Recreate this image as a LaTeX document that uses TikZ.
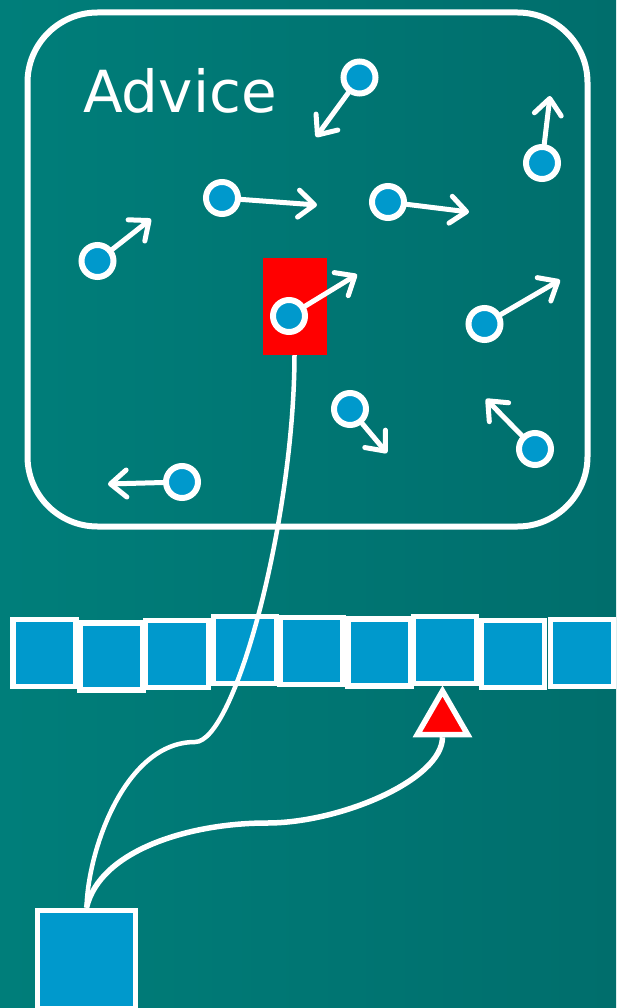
\documentclass[tikz,border=0pt]{standalone}
\usepackage{fontspec}
\setmainfont{DejaVu Sans}
\usetikzlibrary{arrows.meta,shapes.geometric}
\definecolor{bgleft}{RGB}{0,126,122}
\definecolor{bgright}{RGB}{0,110,108}
\definecolor{cellblue}{RGB}{0,153,204}

\begin{document}
\begin{tikzpicture}[x=1pt,y=-1pt,
  dot/.style={circle,draw=white,line width=6pt,fill=cellblue,minimum size=32pt,inner sep=0pt},
  cell/.style={draw=white,line width=5.5pt,fill=cellblue,minimum width=63pt,minimum height=67pt,inner sep=0pt},
  arr/.style={white,line width=5pt,line cap=round,-{Straight Barb[length=16pt,width=27pt,line cap=round,round]}},
  wire/.style={white,line width=4.5pt}]
\fill[left color=bgleft,right color=bgright] (0,0) rectangle (616,1008);
\useasboundingbox (0,0) rectangle (616,1008);
\node[draw=white,line width=6pt,rounded corners=70pt,minimum width=560pt,minimum height=514pt] (advicebox) at (307.5,269.5) {};
\node[anchor=base west,white,font=\fontsize{58}{60}\selectfont,inner sep=0pt] (title) at (83,113) {Advice};
% moving particles
\node[fill=red,minimum width=64pt,minimum height=97pt,inner sep=0pt] (sel) at (294.5,306.5) {};
\node[dot] (p1) at (359.5,77.5) {};  \coordinate (a1) at (316,137);
\node[dot] (p2) at (542,163) {};     \coordinate (a2) at (550,96);
\node[dot] (p3) at (222,198) {};     \coordinate (a3) at (317,205);
\node[dot] (p4) at (388,202) {};     \coordinate (a4) at (469,212);
\node[dot] (p5) at (97.5,261) {};    \coordinate (a5) at (151,219);
\node[dot] (p6) at (289,316) {};     \coordinate (a6) at (357,274.5);
\node[dot] (p7) at (484.5,324) {};   \coordinate (a7) at (560,280);
\node[dot] (p8) at (350,409) {};     \coordinate (a8) at (387,453);
\node[dot] (p9) at (535,449) {};     \coordinate (a9) at (486,399);
\node[dot] (p10) at (182,482) {};    \coordinate (a10) at (108,484);
\foreach \i in {1,...,10} \draw[arr] (p\i) -- (a\i);
% memory row
\node[cell] (s1) at (44.5,653) {};
\node[cell] (s2) at (111.5,656.5) {};
\node[cell] (s3) at (177,654) {};
\node[cell] (s4) at (245,650) {};
\node[cell] (s5) at (311.5,651) {};
\node[cell] (s6) at (379.5,652.5) {};
\node[cell] (s7) at (445,650) {};
\node[cell] (s8) at (513,654) {};
\node[cell] (s9) at (582,653) {};
\node[regular polygon,regular polygon sides=3,draw=white,line width=5.5pt,fill=red,minimum size=58pt,inner sep=0pt] (ptr) at (442.5,720) {};
\node[cell,minimum width=98pt,minimum height=98pt] (hold) at (86.5,959.5) {};
\coordinate (bend) at (195,742); \coordinate (turn) at (267,823);
\draw[wire] (sel.south) .. controls (294,520) and (235,742) .. (bend) .. controls (125,742) and (88,850) .. (hold.north);
\draw[wire,line width=5.5pt] (hold.north) .. controls (100,850) and (190,823) .. (turn) .. controls (340,823) and (442,780) .. (ptr.south);
\end{tikzpicture}
\end{document}
